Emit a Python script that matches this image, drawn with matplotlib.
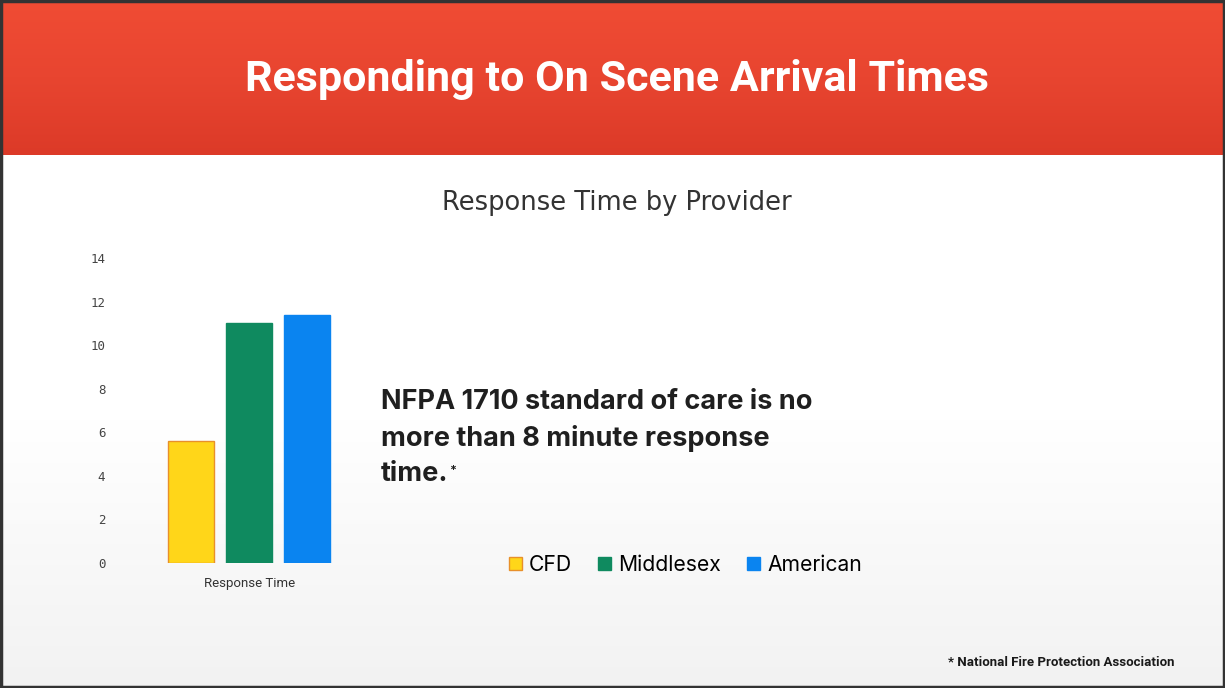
import numpy as np
import matplotlib
matplotlib.use("Agg")
import matplotlib.pyplot as plt
from matplotlib.patches import Rectangle

# data
providers = ["CFD", "Middlesex", "American"]
response_min = [5.6, 11.0, 11.4]
bar_colors = ["#FFD619", "#0F8A5F", "#0A84F0"]
edge_colors = ["#E8902A", "#0F8A5F", "#0A84F0"]
yticks = [0, 2, 4, 6, 8, 10, 12, 14]

W, H = 1225, 688
fig = plt.figure(figsize=(W / 100, H / 100), dpi=100)

# background: white body fading to light grey, red header band
bg = fig.add_axes([0, 0, 1, 1], zorder=-10)
bg.axis("off")
grad = np.linspace(0, 1, 256)[:, None]
bg.imshow(grad, cmap=matplotlib.colors.LinearSegmentedColormap.from_list(
    "body", ["#FFFFFF", "#FFFFFF", "#F2F2F2"]), extent=[0, W, H, 155], aspect="auto")
bg.imshow(grad, cmap=matplotlib.colors.LinearSegmentedColormap.from_list(
    "hdr", ["#F04C34", "#E84530", "#DC3A28"]), extent=[0, W, 155, 0], aspect="auto")
bg.add_patch(Rectangle((1, 1), W - 2, H - 2, fill=False, ec="#333333", lw=2.5))
bg.set_xlim(0, W)
bg.set_ylim(H, 0)

fig.text(617 / W, 1 - 80 / H, "Responding to On Scene Arrival Times",
         ha="center", va="center", color="white", fontsize=31, fontweight="bold",
         family="Roboto")

fig.text(617 / W, 1 - 203 / H, "Response Time by Provider", ha="center",
         va="center", color="#333333", fontsize=18.5, family="DejaVu Sans")

# bar chart
ax = fig.add_axes([140 / W, 1 - 563 / H, 220 / W, 305 / H])
x = np.arange(len(providers))
bars = ax.bar(x, response_min, width=0.79, color=bar_colors,
              edgecolor=edge_colors, linewidth=1, label=providers)
ax.set_xlim(-0.88, 2.91)
ax.set_ylim(0, 14)
ax.set_yticks(yticks)
ax.set_xticks([1])
ax.set_xticklabels(["Response Time"], fontsize=9.5, color="#333333", family="Roboto")
ax.tick_params(axis="y", length=0, pad=25, labelsize=9, labelcolor="#444444")
ax.tick_params(axis="x", length=0, pad=10)
for lbl in ax.get_yticklabels():
    lbl.set_family("DejaVu Sans Mono")
for s in ax.spines.values():
    s.set_visible(False)
ax.patch.set_alpha(0)

fig.legend(bars, providers, loc="center left", bbox_to_anchor=(490 / W, 1 - 565 / H),
           ncol=3, frameon=False, handlelength=0.62, handleheight=0.62,
           handletextpad=0.32, columnspacing=1.25,
           prop={"family": "Inter", "size": 15.2})

# callout text; the last line is separate so the footnote mark can sit after it
note_kw = dict(ha="left", va="center", fontsize=19.5, fontweight="bold",
               color="#1f1f1f", family="Inter")
fig.text(381 / W, 1 - 402 / H, "NFPA 1710 standard of care is no", **note_kw)
fig.text(381 / W, 1 - 438 / H, "more than 8 minute response", **note_kw)
last = fig.text(381 / W, 1 - 474 / H, "time.", **note_kw)
fig.canvas.draw()
bb = last.get_window_extent()
fig.text((bb.x1 + 1) / W, (bb.y1 - 4) / H, "*", ha="left", va="top", fontsize=9,
         fontweight="bold", color="#1f1f1f", family="Inter")

fig.text(1175 / W, 1 - 663 / H, "* National Fire Protection Association", ha="right",
         va="center", fontsize=9.5, fontweight="bold", color="#1a1a1a", family="Roboto")

fig.savefig("out.png", dpi=100)
